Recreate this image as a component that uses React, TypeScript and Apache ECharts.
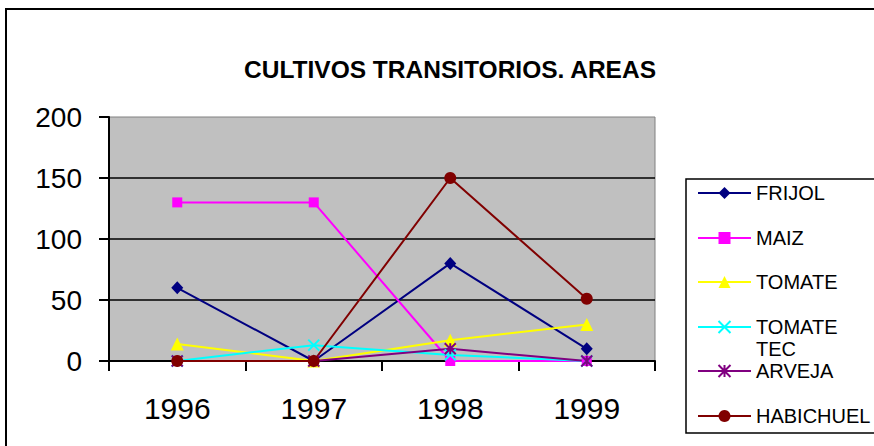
import React, { useEffect, useRef } from "react";
import * as echarts from "echarts";

const years = ["1996", "1997", "1998", "1999"];
const frijol = [60, 0, 80, 10];
const maiz = [130, 130, 0, 0];
const tomate = [14, 0, 17, 30];
const tomateTec = [0, 13, 5, 0];
const arveja = [0, 0, 10, 0];
const habichuela = [0, 0, 150, 51];
const yTicks = { min: 0, max: 200, interval: 50 };
const titleText = "CULTIVOS TRANSITORIOS. AREAS";

const FONT = "'Liberation Sans', Arial, sans-serif";

const X_PATH = "path://M0,0 L10,10 M10,0 L0,10";
const STAR_PATH = "path://M0,0 L10,10 M10,0 L0,10 M5,0 L5,10";

const seriesDefs = [
  { name: "FRIJOL", label: "FRIJOL", data: frijol, color: "#000080", symbol: "diamond", size: [12, 13], border: 0 },
  { name: "MAIZ", label: "MAIZ", data: maiz, color: "#FF00FF", symbol: "rect", size: 10, border: 0 },
  { name: "TOMATE", label: "TOMATE", data: tomate, color: "#FFFF00", symbol: "triangle", size: 13, border: 0 },
  { name: "TOMATE TEC", label: "\nTOMATE\nTEC", data: tomateTec, color: "#00FFFF", symbol: X_PATH, size: 11, border: 2 },
  { name: "ARVEJA", label: "ARVEJA", data: arveja, color: "#800080", symbol: STAR_PATH, size: 11, border: 2 },
  { name: "HABICHUELA", label: "HABICHUEL", data: habichuela, color: "#800000", symbol: "circle", size: 12, border: 0 },
];

const legendCenters = [193, 238, 282, 327, 371, 416];

export default function App() {
  const ref = useRef<HTMLDivElement>(null);
  useEffect(() => {
    if (!ref.current) return;
    const chart = echarts.init(ref.current, null, { renderer: "svg" });
    const legends = seriesDefs.map((s, i) => {
      const multi = s.label.indexOf("\n") >= 0;
      return {
        data: [s.name],
        orient: "vertical",
        left: 697,
        top: multi ? legendCenters[i] - 33 : legendCenters[i] - 10,
        padding: 0,
        itemWidth: 53,
        itemHeight: 15,
        itemGap: 5,
        selectedMode: false,
        formatter: () => s.label,
        textStyle: multi
          ? { fontFamily: FONT, fontSize: 20, color: "#000", lineHeight: 22 }
          : { fontFamily: FONT, fontSize: 20, color: "#000" },
      };
    });
    chart.setOption({
      animation: false,
      backgroundColor: "#fff",
      grid: {
        left: 109,
        top: 117,
        width: 546,
        height: 244,
        show: true,
        backgroundColor: "#C0C0C0",
        borderColor: "#808080",
        borderWidth: 1,
      },
      legend: legends,
      graphic: [
        {
          type: "polyline",
          shape: { points: [[6, 446], [6, 9], [874, 9]] },
          style: { stroke: "#000", lineWidth: 2, fill: "none" },
          silent: true,
        },
        {
          type: "polyline",
          shape: { points: [[874, 179], [686, 179], [686, 433], [874, 433]] },
          style: { stroke: "#000", lineWidth: 1.5, fill: "none" },
          silent: true,
        },
        {
          type: "text",
          x: 450,
          y: 69,
          style: {
            text: titleText,
            fontFamily: FONT,
            fontSize: 24.5,
            fontWeight: "bold",
            fill: "#000",
            align: "center",
            verticalAlign: "middle",
          },
          silent: true,
        },
      ],
      xAxis: {
        type: "category",
        data: years,
        boundaryGap: true,
        axisLine: { show: true, lineStyle: { color: "#000", width: 2 } },
        axisTick: { show: true, length: 10, lineStyle: { color: "#000", width: 2 } },
        axisLabel: { fontFamily: FONT, fontSize: 30, color: "#000", margin: 32 },
        splitLine: { show: false },
      },
      yAxis: {
        type: "value",
        min: yTicks.min,
        max: yTicks.max,
        interval: yTicks.interval,
        axisLine: { show: true, lineStyle: { color: "#000", width: 2 } },
        axisTick: { show: true, length: 10, lineStyle: { color: "#000", width: 2 } },
        axisLabel: { fontFamily: FONT, fontSize: 28, color: "#000", margin: 27 },
        splitLine: { show: true, showMaxLine: false, lineStyle: { color: "#000", width: 1.5 } },
      },
      series: seriesDefs.map((s) => ({
        name: s.name,
        type: "line",
        data: s.data,
        color: s.color,
        symbol: s.symbol,
        symbolSize: s.size,
        showAllSymbol: true,
        lineStyle: { color: s.color, width: 2 },
        itemStyle: s.border
          ? { color: s.color, borderColor: s.color, borderWidth: s.border }
          : { color: s.color },
        emphasis: { disabled: true },
      })),
    });
    return () => chart.dispose();
  }, []);
  return (
    <div
      ref={ref}
      style={{ position: "absolute", left: 0, top: 0, width: 874, height: 446 }}
    />
  );
}
